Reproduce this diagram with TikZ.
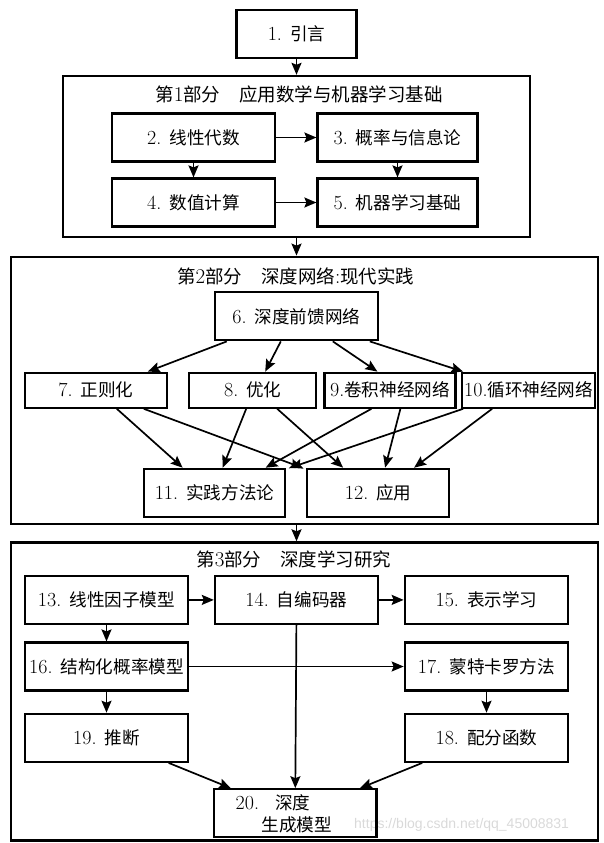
\documentclass[tikz,border=0pt]{standalone}
\usepackage{fontspec}
\newfontfamily\zh{Noto Sans CJK SC}[Scale=0.88]
\newfontfamily\wmfont{Liberation Sans}
\usetikzlibrary{arrows.meta,calc}
\newcommand\boxfont{\fontsize{20}{23}\selectfont}
\newcommand\titlefont{\fontsize{21}{24}\selectfont}
\tikzset{
  box/.style={draw, line width=2.2pt, inner sep=0pt, font=\boxfont, minimum height=48pt},
  smallbox/.style={box, minimum height=35pt},
  frame/.style={draw, line width=2.4pt, inner sep=0pt},
  ttl/.style={inner sep=0pt, font=\titlefont},
  arr/.style={line width=1.7pt, -{Stealth[length=12pt,width=10pt,inset=2pt]}},
}
\begin{document}
\begin{tikzpicture}[x=1pt,y=1pt]
\useasboundingbox (0,0) rectangle (603,-843);
% watermark
\node[inner sep=0pt, text=black!15, font=\wmfont\fontsize{14}{16}\selectfont, anchor=west] (wm) at (354,-825) {https://blog.csdn.net/qq\_45008831};
% top
\node[box, minimum width=120] (n1) at (296.5,-34) {1. {\zh 引言}};
% part 1
\node[frame, minimum width=467, minimum height=161] (p1) at (296.5,-156.5) {};
\node[ttl] (t1) at (299,-94) {{\zh 第}1{\zh 部分}\hspace{0.9em}{\zh 应用数学与机器学习基础}};
\node[box, minimum width=163] (n2) at (193.5,-137.5) {2. {\zh 线性代数}};
\node[box, minimum width=160] (n3) at (397.5,-137.5) {3. {\zh 概率与信息论}};
\node[box, minimum width=163] (n4) at (193.5,-202.5) {4. {\zh 数值计算}};
\node[box, minimum width=160] (n5) at (397.5,-202.5) {5. {\zh 机器学习基础}};
% part 2
\node[frame, minimum width=587, minimum height=267] (p2) at (304.4,-390.3) {};
\node[ttl] (t2) at (295.7,-276) {{\zh 第}2{\zh 部分}\hspace{0.9em}{\zh 深度网络}:{\zh 现代实践}};
\node[box, minimum width=163] (n6) at (296.4,-316.3) {6. {\zh 深度前馈网络}};
\node[smallbox, minimum width=142] (n7) at (95.9,-390.2) {7. {\zh 正则化}};
\node[smallbox, minimum width=127] (n8) at (252.8,-390.2) {8. {\zh 优化}};
\node[smallbox, minimum width=131] (n9) at (390,-390.2) {9.{\zh 卷积神经网络}};
\node[smallbox, minimum width=133] (n10) at (528.7,-390.2) {10.{\zh 循环神经网络}};
\node[box, minimum width=141.5] (n11) at (214.5,-492.8) {11. {\zh 实践方法论}};
\node[box, minimum width=142] (n12) at (378.2,-492.8) {12. {\zh 应用}};
% part 3
\node[frame, minimum width=587, minimum height=298] (p3) at (304.4,-691.5) {};
\node[ttl] (t3) at (293.8,-559.3) {{\zh 第}3{\zh 部分}\hspace{0.9em}{\zh 深度学习研究}};
\node[box, minimum width=163.5] (n13) at (106.5,-599.9) {13. {\zh 线性因子模型}};
\node[box, minimum width=163] (n14) at (296.4,-599.9) {14. {\zh 自编码器}};
\node[box, minimum width=163.5] (n15) at (486.5,-599.9) {15. {\zh 表示学习}};
\node[box, minimum width=163.5] (n16) at (106.5,-666.5) {16. {\zh 结构化概率模型}};
\node[box, minimum width=163.5] (n17) at (486.5,-666.5) {17. {\zh 蒙特卡罗方法}};
\node[box, minimum width=163.5] (n19) at (106.5,-737.8) {19. {\zh 推断}};
\node[box, minimum width=163.5] (n18) at (486.5,-737.8) {18. {\zh 配分函数}};
\node[box, minimum width=162.5] (n20) at (295.3,-813.3) {};
\node[inner sep=0pt, font=\boxfont, align=left, anchor=west] (n20t) at (235.5,-814) {20.\hspace{16pt}{\zh 深度}\\[-1pt]\hspace{26pt}{\zh 生成模型}};
% connectors between parts
\draw[arr] (n1.south) -- (n1.south |- p1.north);
\draw[arr] (p1.south) -- (p1.south |- p2.north);
\draw[arr] (n1 |- p2.south) -- (n1 |- p3.north);
% part 1 connectors
\draw[arr] (n2.east) -- (n3.west);
\draw[arr] (n2.south) -- (n4.north);
\draw[arr] (n3.south) -- (n5.north);
\draw[arr] (n4.east) -- (n5.west);
% part 2 connectors
\draw[arr] ([xshift=13pt]n6.south west) -- ([xshift=124pt]n7.north west);
\draw[arr] ([xshift=67pt]n6.south west) -- ([xshift=77pt]n8.north west);
\draw[arr] ([xshift=119pt]n6.south west) -- ([xshift=54pt]n9.north west);
\draw[arr] ([xshift=156pt]n6.south west) -- ([xshift=2pt]n10.north west);
\draw[arr] ([xshift=93pt]n7.south west) -- ([xshift=40pt]n11.north west);
\draw[arr] ([xshift=120pt]n7.south west) -- ([xshift=-4pt]n12.north west);
\draw[arr] ([xshift=58pt]n8.south west) -- ([xshift=80pt]n11.north west);
\draw[arr] ([xshift=89pt]n8.south west) -- ([xshift=37pt]n12.north west);
\draw[arr] ([xshift=48pt]n9.south west) -- ([xshift=123pt]n11.north west);
\draw[arr] ([xshift=77pt]n9.south west) -- ([xshift=79pt]n12.north west);
\draw[arr] ([xshift=2pt]n10.south west) -- ([xshift=4pt]n11.north east);
\draw[arr] ([xshift=31pt]n10.south west) -- ([xshift=108pt]n12.north west);
% part 3 connectors
\draw[arr] (n13.east) -- (n14.west);
\draw[arr] (n14.east) -- (n15.west);
\draw[arr] (n13.south) -- (n16.north);
\draw[arr] (n16.south) -- (n19.north);
\draw[arr] (n16.east) -- (n17.west);
\draw[arr] (n17.south) -- (n18.north);
\draw[arr] (n14.south) -- (n20.north);
\draw[arr] ([xshift=145pt]n19.south west) -- ([xshift=18pt]n20.north west);
\draw[arr] ([xshift=18.6pt]n18.south west) -- ([xshift=147pt]n20.north west);
\end{tikzpicture}
\end{document}
